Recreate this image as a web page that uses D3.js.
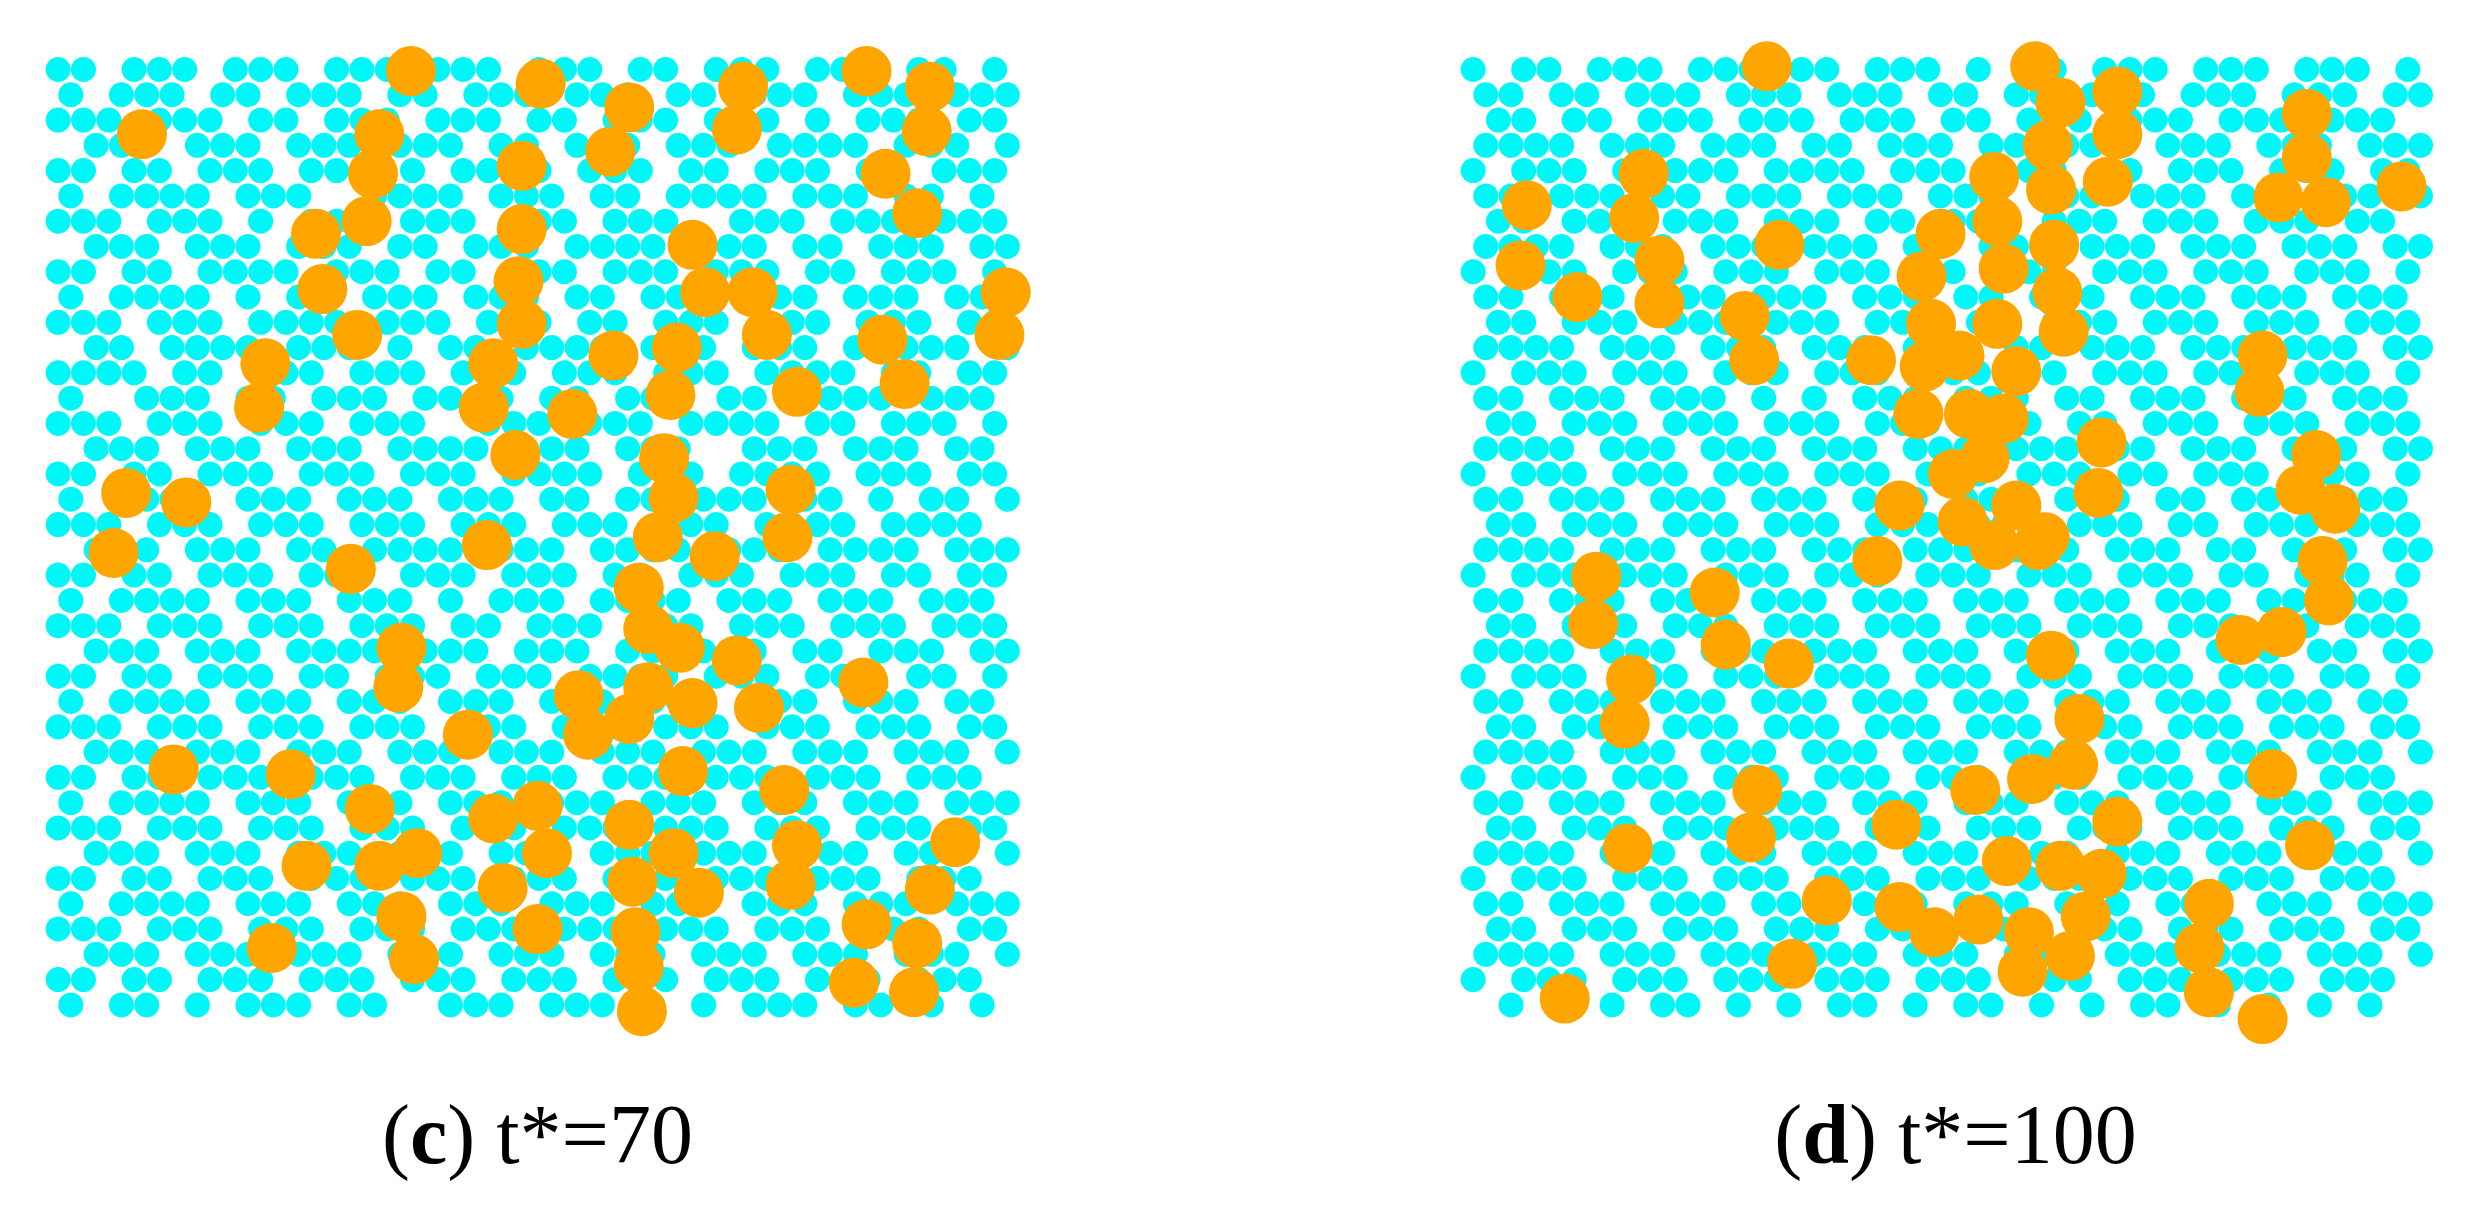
<!DOCTYPE html>
<html><head><meta charset="utf-8">
<script src="https://cdn.jsdelivr.net/npm/d3@7"></script>
<style>html,body{margin:0;background:#fff;}</style>
</head><body>
<svg id="c" width="2479" height="1222"></svg>
<script>
// panel titles
const labels = [{tag:"c", rest:" t*=70"}, {tag:"d", rest:" t*=100"}];
// large (orange) particle centres, read in reference units
const orangeC = [[90,85],[260,45],[342,53],[398,68],[386,96],[470,55],[466,82],[548,45],[588,55],[586,83],[240,85],[236,110],[232,140],[330,105],[560,110],[580,135],[200,148],[204,183],[226,212],[330,145],[328,178],[330,205],[438,155],[446,185],[476,185],[485,212],[636,185],[632,212],[168,230],[164,258],[312,230],[306,258],[388,225],[428,220],[424,250],[362,262],[504,248],[558,215],[572,243],[326,288],[420,290],[426,315],[500,310],[498,340],[80,312],[118,318],[72,350],[222,360],[308,345],[416,340],[452,352],[404,372],[254,410],[252,435],[410,398],[430,410],[410,435],[438,445],[466,418],[480,448],[546,432],[366,440],[372,465],[398,455],[296,465],[110,487],[184,490],[432,488],[496,500],[234,512],[312,518],[340,510],[346,540],[398,522],[426,540],[504,535],[604,533],[194,548],[240,548],[264,540],[318,562],[254,580],[400,558],[442,565],[500,560],[262,607],[172,600],[340,588],[402,590],[548,585],[588,563],[580,597],[540,622],[578,628],[404,612],[406,640]];
const orangeD = [[1118,42],[1288,42],[1304,65],[1340,58],[1296,92],[1340,85],[1262,112],[1298,120],[1334,115],[1460,72],[1460,100],[1442,125],[1472,128],[1520,118],[966,130],[962,168],[1040,110],[1034,138],[1050,165],[1050,192],[998,188],[1126,155],[1104,200],[1110,228],[1184,228],[1228,148],[1216,175],[1264,140],[1268,170],[1264,205],[1300,155],[1302,185],[1306,210],[1222,205],[1218,232],[1214,262],[1240,225],[1276,235],[1246,262],[1268,265],[1256,290],[1276,320],[1236,300],[1242,330],[1202,320],[1294,340],[1330,280],[1328,312],[1432,225],[1430,248],[1466,288],[1456,310],[1478,322],[1470,355],[1474,380],[1444,400],[1418,405],[1262,345],[1290,345],[1188,355],[1010,365],[1008,395],[1085,375],[1092,408],[1132,420],[1032,430],[1028,458],[1298,415],[1316,455],[1112,500],[1108,530],[1030,537],[1250,500],[1286,493],[1312,484],[1340,520],[1438,490],[1462,535],[1200,522],[1270,545],[1304,548],[1330,553],[1252,582],[1320,580],[1156,570],[1202,574],[1224,590],[1284,590],[1310,605],[1280,615],[1134,610],[1398,572],[1392,600],[990,632],[1398,628],[1432,645]];
// small (cyan) particle occupancy, coarse rows (1 = particle)
const cyanC = [
"11011101110111011101110110111011101101",
"10111011011101101110111011011101110111",
"11101110110111011101101110111010111011",
"01110111011101110110111011101111011101",
"11011011101110101111011101101110110111",
"10111101110011110111011011110111011010",
"11101110101110111011101110011101110111",
"01110111011101101110111101110110111011",
"11011011110111011011101110111011011101",
"10111101011011101110110111011101110110",
"11101110111101110111011011101110111011",
"01101111011101011011110111011101011101",
"11110110111011101110111011101111011011",
"10011101101110111101101110110111101110",
"11101110111011100111011101111011011101",
"01110111011101111011101110011101110110",
"11011011101110111011110111011110111011",
"10111101110111011101101101110110101101",
"11101110111011101110111011101111011110",
"01110111011011110111011110111011110111",
"11011011101110111011101101110111011011",
"10111101110111010111011110111011101110",
"11101110111011101101110111011101110111",
"01110111011110111011101101110110111011",
"11011011101101110111011110111011101101",
"10111101110111011101110111011101110110",
"11101110111011101110111011101110111011",
"01110111011101110111011101110111011101",
"11011011101110111011101110111011101110",
"10111101110111011101110111011101110111",
"11101110111011101110111011101110111011",
"01110111011101110111011101110111011101",
"11011011101110111011101110111011101110",
"10111101110111011101110111011101110111",
"11101110111011101110111011101110111011",
"01110111011101110111011101110111011101",
"11011011101110111011101110111011101110",
"10110101110110011101110101011101101010"];
const cyanD = [
"10110111011101101110101101110111011101",
"11011011101110111011011011101110111011",
"01101101110111011101101110111011101110",
"11110111011101101110110111011101110111",
"10111010111011110111011101101110111011",
"11011101101110111011101110111011011101",
"01101110111011101101110111011101110110",
"11110111011101110110111011101110111011",
"10111011101110111011011101110111011101",
"11011101110111011101101110111011101110",
"01101110111011101110110111011101110111",
"11110111011101110111011011101110111011",
"10111011101110111011101101110111011101",
"11011101110101011101110110111011101110",
"01101110111011101110111011011101110111",
"11110111011101110111011101101110111011",
"10111011101110111011101110110111011101",
"11011101110111011101110111011011101110",
"01101110111011101110111011101101110111",
"11110111011101110111011101110110111011",
"10111011101110111011101110111011011101",
"11011101110111011101110111011101101110",
"01101110111011101110111011101110110111",
"11110111011101110111011101110111011011",
"10111011101110111011101110111011101101",
"11011101110111011101110111011101110110",
"01101110111011101110111011101110111011",
"11110111011101110111011101110111011101",
"10111011101110111011101110111011101110",
"11011101110111011101110111011101110111",
"01101110111011101110111011101110111011",
"11110111011101110111011101110111011101",
"10111011101110111011101110111011101110",
"11011101110111011101110111011101110111",
"01101110111011101110111011101110111011",
"11110111011101110111011101110111011101",
"10111011101110111011101110111011101110",
"01010101101010110101101010110101010100"];

const svg = d3.select("#c");
const y = d3.scaleLinear().domain([38,650]).range([60,1027]);
const panels = [
  {x: d3.scaleLinear().domain([35,645]).range([55,1020]), orange: orangeC, cyan: cyanC, x0: 35, lab: labels[0]},
  {x: d3.scaleLinear().domain([930,1545]).range([1470,2441]), orange: orangeD, cyan: cyanD, x0: 930, lab: labels[1]}
];
panels.forEach(p => {
  const pts = [];
  p.cyan.forEach((row, j) => {
    for (let i = 0; i < Math.min(row.length, 38); i++) {
      if (row[i] === "1") pts.push([p.x0 + 6 + i*16 + (j%2 ? 8 : 0) - 4, 44 + j*16]);
    }
  });
  const g = svg.append("g");
  g.selectAll("circle.s").data(pts).join("circle").attr("class","s")
    .attr("cx", d => p.x(d[0])).attr("cy", d => y(d[1])).attr("r", 12.5).attr("fill", "#00f7f7");
  g.selectAll("circle.l").data(p.orange).join("circle").attr("class","l")
    .attr("cx", d => p.x(d[0])).attr("cy", d => y(d[1])).attr("r", 25).attr("fill", "#ffa500");
  const xr = p.x.range();
  const t = svg.append("text").attr("x", (xr[0]+xr[1])/2).attr("y", 1163)
    .attr("text-anchor","middle").attr("font-family","Liberation Serif, serif").attr("font-size", 84).attr("fill","#000");
  t.append("tspan").text("(");
  t.append("tspan").attr("font-weight","bold").text(p.lab.tag);
  t.append("tspan").text(")" + p.lab.rest);
});
</script>
</body></html>
